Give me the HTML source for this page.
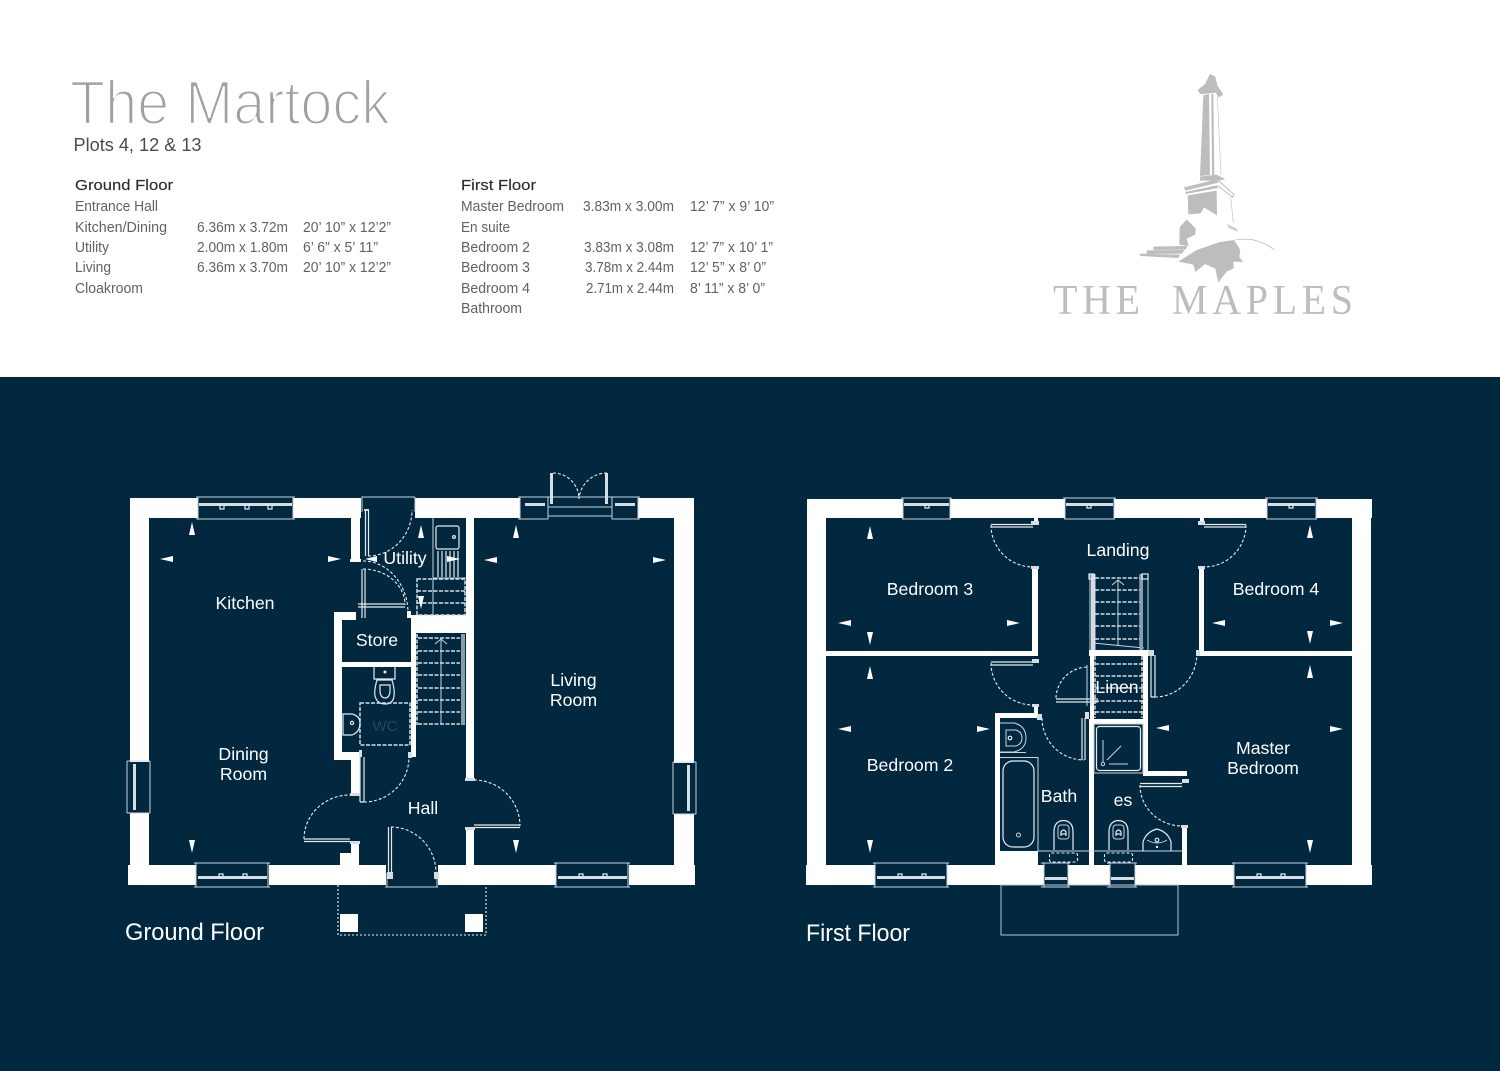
<!DOCTYPE html>
<html lang="en"><head><meta charset="utf-8"><title>The Martock</title>
<style>
html,body{margin:0;padding:0;background:#fff}
svg{display:block}
text{font-family:"Liberation Sans",Arial,sans-serif}
.t{font-size:14.4px;fill:#626262}
.h{font-size:15px;fill:#2c2c2c;stroke:#2c2c2c;stroke-width:.15}
.r{font-size:17.7px;fill:#fff;text-anchor:middle}
.f{font-size:24px;fill:#fff}
.w{fill:#fff}
.n{fill:#01283f}
.l{fill:none;stroke:#c9d5dc;stroke-width:1}
.b{fill:none;stroke:#e4eaee;stroke-width:1.2}
.d{fill:none;stroke:#e8eef1;stroke-width:1.1;stroke-dasharray:3 2}
.dd{fill:none;stroke:#d3dde2;stroke-width:1.5;stroke-dasharray:4 1.500}
.s{fill:#d5dee3}
.lg{fill:#bdbdbd}
</style></head>
<body>
<svg width="1500" height="1071" viewBox="0 0 1500 1071" xmlns="http://www.w3.org/2000/svg">
<rect width="1500" height="1071" fill="#fff"/>
<rect y="377" width="1500" height="694" fill="#01283f"/>

<!-- Title -->
<text x="70" y="124" font-size="62" fill="#a0a0a0" stroke="#fff" stroke-width="2.300" textLength="320" lengthAdjust="spacingAndGlyphs">The Martock</text>
<text x="73.500" y="151" font-size="18.500" fill="#4c4c4c" textLength="128" lengthAdjust="spacingAndGlyphs">Plots 4, 12 &amp; 13</text>

<text class="h" x="75" y="190" textLength="98" lengthAdjust="spacingAndGlyphs">Ground Floor</text>
<text class="t" x="75" y="211" textLength="83" lengthAdjust="spacingAndGlyphs">Entrance Hall</text>
<text class="t" x="75" y="232" textLength="92" lengthAdjust="spacingAndGlyphs">Kitchen/Dining</text>
<text class="t" x="197" y="232" textLength="91" lengthAdjust="spacingAndGlyphs">6.36m x 3.72m</text>
<text class="t" x="303" y="232" textLength="88" lengthAdjust="spacingAndGlyphs">20’ 10” x 12’2”</text>
<text class="t" x="75" y="252" textLength="34" lengthAdjust="spacingAndGlyphs">Utility</text>
<text class="t" x="197" y="252" textLength="91" lengthAdjust="spacingAndGlyphs">2.00m x 1.80m</text>
<text class="t" x="303" y="252" textLength="75" lengthAdjust="spacingAndGlyphs">6’ 6” x 5’ 11”</text>
<text class="t" x="75" y="272" textLength="36" lengthAdjust="spacingAndGlyphs">Living</text>
<text class="t" x="197" y="272" textLength="91" lengthAdjust="spacingAndGlyphs">6.36m x 3.70m</text>
<text class="t" x="303" y="272" textLength="88" lengthAdjust="spacingAndGlyphs">20’ 10” x 12’2”</text>
<text class="t" x="75" y="293" textLength="68" lengthAdjust="spacingAndGlyphs">Cloakroom</text>

<text class="h" x="461" y="190" textLength="75" lengthAdjust="spacingAndGlyphs">First Floor</text>
<text class="t" x="461" y="211" textLength="103" lengthAdjust="spacingAndGlyphs">Master Bedroom</text>
<text class="t" x="583" y="211" textLength="91" lengthAdjust="spacingAndGlyphs">3.83m x 3.00m</text>
<text class="t" x="690" y="211" textLength="84" lengthAdjust="spacingAndGlyphs">12’ 7” x 9’ 10”</text>
<text class="t" x="461" y="232" textLength="49" lengthAdjust="spacingAndGlyphs">En suite</text>
<text class="t" x="461" y="252" textLength="69" lengthAdjust="spacingAndGlyphs">Bedroom 2</text>
<text class="t" x="584" y="252" textLength="90" lengthAdjust="spacingAndGlyphs">3.83m x 3.08m</text>
<text class="t" x="690" y="252" textLength="83" lengthAdjust="spacingAndGlyphs">12’ 7” x 10’ 1”</text>
<text class="t" x="461" y="272" textLength="69" lengthAdjust="spacingAndGlyphs">Bedroom 3</text>
<text class="t" x="585" y="272" textLength="89" lengthAdjust="spacingAndGlyphs">3.78m x 2.44m</text>
<text class="t" x="690" y="272" textLength="76" lengthAdjust="spacingAndGlyphs">12’ 5” x 8’ 0”</text>
<text class="t" x="461" y="293" textLength="69" lengthAdjust="spacingAndGlyphs">Bedroom 4</text>
<text class="t" x="586" y="293" textLength="88" lengthAdjust="spacingAndGlyphs">2.71m x 2.44m</text>
<text class="t" x="690" y="293" textLength="75" lengthAdjust="spacingAndGlyphs">8’ 11” x 8’ 0”</text>
<text class="t" x="461" y="313" textLength="61" lengthAdjust="spacingAndGlyphs">Bathroom</text>

<!-- Logo -->
<g transform="translate(1040 60) scale(.33333)">
<path class="lg" d="M495 72L510 42L526 50L532 76L550 104L536 112L527 98L490 102L480 102L473 90Z"/>
<path class="lg" d="M490 106L507 102L510 345L480 348Z"/>
<path class="lg" d="M514 102L520 102L523 345L516 345Z"/>
<path d="M532 110L543 345" fill="none" stroke="#c4c4c4" stroke-width="2"/>
<path class="lg" d="M480 350L530 344L556 358L535 362L480 362Z"/>
<path class="lg" d="M432 382L530 358L536 368L436 392Z"/>
<path class="lg" d="M436 396L530 376L534 384L438 402Z"/>
<path d="M536 362L582 404L578 412L532 376" fill="none" stroke="#bdbdbd" stroke-width="3"/>
<path class="lg" d="M443 406L530 392L531 466L492 442L482 460L445 463Z"/>
<path d="M572 412L580 488" fill="none" stroke="#c4c4c4" stroke-width="2"/>
<path class="lg" d="M440 478L467 505L466 524L440 536L446 558L418 554L419 502Z"/>
<path class="lg" d="M340 560L442 558L437 569L340 570Z"/>
<path class="lg" d="M320 571L433 570L426 581L320 582Z"/>
<path class="lg" d="M300 581L420 584L415 594L300 588Z"/>
<path class="lg" d="M560 492L590 505L594 516L566 504Z" opacity=".7"/>
<path class="lg" d="M415 605L470 570L540 546L582 540L590 552L601 570L598 590L609 606L580 605L581 625L560 635L535 668L526 626L495 612L466 636L460 614Z"/>
<path d="M585 540Q650 528 703 570" fill="none" stroke="#bdbdbd" stroke-width="2.400"/>
</g>
<text transform="translate(1053 314) scale(1 1.07)" font-size="40" style='font-family:"Liberation Serif",serif' fill="#bdbdbd" textLength="87" lengthAdjust="spacing">THE</text>
<text transform="translate(1172 314) scale(1 1.07)" font-size="40" style='font-family:"Liberation Serif",serif' fill="#bdbdbd" textLength="181" lengthAdjust="spacing">MAPLES</text>

<!-- ============ GROUND FLOOR ============ -->
<g class="w">
<rect x="130" y="498" width="231" height="20"/>
<rect x="415" y="498" width="279" height="20"/>
<rect x="130" y="498" width="19" height="387"/>
<rect x="674" y="498" width="20" height="387"/>
<rect x="128" y="865" width="258" height="20"/>
<rect x="438" y="865" width="257" height="20"/>
<rect x="351" y="518" width="9" height="42"/>
<rect x="334" y="612" width="8" height="148"/>
<rect x="334" y="612" width="22" height="8"/>
<rect x="411" y="615" width="55" height="18"/>
<rect x="411" y="615" width="5" height="142"/>
<rect x="342" y="662" width="69" height="5"/>
<rect x="466" y="518" width="8" height="262"/>
<rect x="466" y="827" width="8" height="38"/>
<rect x="334" y="752" width="17" height="8"/>
<rect x="351" y="752" width="9" height="43"/>
<rect x="351" y="842" width="8" height="24"/>
<rect x="340" y="853" width="12" height="13"/>
<rect x="340" y="914" width="18" height="18"/>
<rect x="465" y="914" width="18" height="18"/>
</g>

<!-- GF windows -->
<g id="gfwin">
<rect class="n" x="198" y="497" width="95" height="22"/>
<path class="l" d="M196 497H295M198 497V504M293 497V504M198 504V519M293 504V519M196 519H295"/>
<rect class="s" x="199" y="503" width="93" height="3"/>
<path class="b" d="M220 504v5h4v-5M245 504v5h4v-5M268 504v5h4v-5"/>

<rect class="n" x="196" y="864" width="73" height="22"/>
<path class="l" d="M194 863H270M194 887H270M196 863V887M268 863V887"/>
<rect class="s" x="198" y="876" width="69" height="3"/>
<path class="b" d="M219 878v-4h4v4M243 878v-4h4v4"/>

<rect class="n" x="556" y="864" width="73" height="22"/>
<path class="l" d="M554 863H630M554 887H630M556 863V887M628 863V887"/>
<rect class="s" x="558" y="876" width="69" height="3"/>
<path class="b" d="M579 878v-4h4v4M603 878v-4h4v4"/>

<rect class="n" x="129" y="762" width="21" height="51"/>
<path class="l" d="M127 761V813M150 761V813M127 761H150M127 813H150"/>
<rect class="s" x="133" y="764" width="3" height="46"/>
<rect class="n" x="673" y="763" width="21" height="51"/>
<path class="l" d="M673 762V814M696 762V814M673 762H696M673 814H696"/>
<rect class="s" x="687" y="765" width="3" height="46"/>

<!-- French doors -->
<rect class="n" x="520" y="497" width="118" height="22"/>
<path class="l" d="M518 497H640M518 519H548M612 519H640M520 497V519M548 497V519M612 497V519M638 497V519M548 507H612M548 516H612"/>
<rect class="s" x="525" y="503" width="20" height="3"/>
<rect class="s" x="615" y="503" width="20" height="3"/>
<rect class="s" x="550" y="473" width="3" height="31"/>
<rect class="s" x="605" y="473" width="3" height="31"/>
<path class="d" d="M553 473A26 26 0 0 1 579 499M607 473A28 28 0 0 0 579 499"/>
</g>

<!-- GF doors -->
<rect class="n" x="361" y="497" width="54" height="22"/>
<path class="l" d="M361.500 497H415M362 497V512M415 497V512"/>
<rect class="s" x="364" y="509" width="5" height="2"/>
<path class="b" d="M365.500 510V556M368.500 510V556"/>
<path class="d" d="M368 556A44 46 0 0 0 412 510"/>
<path class="b" d="M362 569V618M365 569V618"/>
<path class="b" d="M358 604H405M358 607H405"/>
<path class="d" d="M363 561A45 52 0 0 1 408 613M363 569A42 36 0 0 1 405 605"/>
<rect class="w" x="407" y="611" width="4" height="7"/>
<rect class="w" x="350" y="559" width="11" height="3"/>
<path class="b" d="M360 757V802M364 757V802M360 802H364"/>
<path class="d" d="M364 802A45 45 0 0 0 409 757"/>
<rect class="s" x="359" y="750" width="3" height="7"/>
<rect class="s" x="408" y="752" width="4" height="6"/>
<path class="b" d="M304 839H350M304 841.500H350"/>
<path class="d" d="M304 839A46 44 0 0 1 350 795"/>
<rect class="s" x="350" y="793" width="10" height="3"/>
<rect class="s" x="350" y="841" width="10" height="3"/>
<path class="b" d="M474 825H520M474 827.500H520"/>
<path class="d" d="M474 780A46 46 0 0 1 520 826"/>
<rect class="s" x="465" y="778" width="10" height="3"/>
<rect class="s" x="465" y="827" width="10" height="3"/>
<rect class="n" x="386" y="864" width="52" height="23"/>
<path class="l" d="M385 887H438M387 873V887M437 873V887"/>
<path class="b" d="M388.500 827V873M391.500 827V873"/>
<path class="d" d="M391 827A45 46 0 0 1 436 873"/>
<rect class="s" x="387" y="872" width="6" height="7"/>
<rect class="s" x="434" y="872" width="5" height="7"/>
<path d="M338 885V935H486V885" fill="none" stroke="#e8eef1" stroke-width="1.100" stroke-dasharray="2 2"/>

<!-- Utility fittings -->
<path class="l" d="M433 518V615M433 578H466"/>
<rect class="b" x="436" y="526" width="23" height="23" rx="2"/>
<circle class="b" cx="454" cy="537" r="1.400"/>
<path class="b" d="M438 551V577M442 551V577M446 551V577M450 551V577M454 551V577M458 551V577"/>
<path class="dd" d="M417 579H465V615H417ZM417 591H465M417 603H465"/>

<!-- GF stairs -->
<path class="dd" d="M418 638H460M418 651H460M418 663H460M418 675H460M418 688H460M418 700H460M418 712H460M418 724H460"/>
<path class="l" d="M441 640V724M435 644L441 639L447 644"/>
<path class="dd" d="M417 634V725"/>
<rect x="461" y="634" width="4" height="91" fill="#8a9daa"/>

<!-- WC -->
<path class="b" d="M374 667V679H395V667M377 680Q374 690 375 696Q377 704 385 704Q393 704 394 696Q395 690 392 680Z"/>
<path class="b" d="M380 685H390V692Q389 698 385 698Q381 698 380 692Z"/>
<circle cx="385" cy="672" r="1.500" fill="#e8eef1"/>
<path class="dd" d="M360 703H410V745H360Z" stroke-width="1.300"/>
<text x="385" y="731" font-size="15" fill="#2a4558" text-anchor="middle">WC</text>
<path class="b" d="M343 714H352Q360 716 360 723Q360 732 352 735H343Z"/>
<circle class="b" cx="352" cy="723" r="1.600"/>

<!-- ============ FIRST FLOOR ============ -->
<g class="w">
<rect x="807" y="499" width="565" height="19"/>
<rect x="807" y="499" width="19" height="386"/>
<rect x="1352" y="499" width="19" height="386"/>
<rect x="806" y="865" width="566" height="20"/>
<rect x="826" y="651" width="212" height="5"/>
<rect x="1032" y="568" width="6" height="88"/>
<rect x="1199" y="568" width="5" height="88"/>
<rect x="1199" y="651" width="153" height="5"/>
<rect x="1089" y="650" width="59" height="6"/>
<rect x="1090" y="650" width="4" height="70"/>
<rect x="1143" y="650" width="5" height="126"/>
<rect x="1089" y="719" width="59" height="5"/>
<rect x="1089" y="719" width="5" height="147"/>
<rect x="1143" y="771" width="44" height="5"/>
<rect x="1182" y="826" width="5" height="40"/>
<rect x="995" y="713" width="5" height="153"/>
<rect x="995" y="713" width="43" height="5"/>
<rect x="995" y="851" width="43" height="15"/>
</g>

<!-- FF windows -->
<rect class="n" x="903" y="498" width="47" height="21"/>
<path class="l" d="M901 498H952M903 498V519M950 498V519M902 519H951"/>
<rect class="s" x="904" y="503" width="45" height="3"/>
<path class="b" d="M925 504v4h4v-4"/>
<rect class="n" x="1065" y="498" width="49" height="21"/>
<path class="l" d="M1063 498H1116M1065 498V519M1114 498V519M1064 519H1115"/>
<rect class="s" x="1066" y="503" width="47" height="3"/>
<path class="b" d="M1087 504v4h4v-4"/>
<rect class="n" x="1267" y="498" width="49" height="21"/>
<path class="l" d="M1265 498H1318M1267 498V519M1316 498V519M1266 519H1317"/>
<rect class="s" x="1268" y="503" width="47" height="3"/>
<path class="b" d="M1289 504v4h4v-4"/>
<rect class="n" x="875" y="864" width="72" height="22"/>
<path class="l" d="M873 863H949M873 887H949M875 863V887M947 863V887"/>
<rect class="s" x="877" y="876" width="68" height="3"/>
<path class="b" d="M898 878v-4h4v4M922 878v-4h4v4"/>
<rect class="n" x="1234" y="864" width="72" height="22"/>
<path class="l" d="M1232 863H1308M1232 887H1308M1234 863V887M1306 863V887"/>
<rect class="s" x="1236" y="876" width="68" height="3"/>
<path class="b" d="M1257 878v-4h4v4M1281 878v-4h4v4"/>
<rect class="n" x="1044" y="864" width="24" height="23"/>
<path class="l" d="M1041 863H1070M1041 887H1070M1044 863V887M1068 863V887"/>
<rect class="s" x="1045" y="877" width="22" height="3"/>
<rect class="n" x="1110" y="864" width="25" height="23"/>
<path class="l" d="M1107 863H1137M1107 887H1137M1110 863V887M1135 863V887"/>
<rect class="s" x="1111" y="877" width="23" height="3"/>

<!-- FF doors -->
<path class="b" d="M991 524.500H1033M991 527H1033"/>
<path class="d" d="M991 525A42 42 0 0 0 1033 567"/>
<rect class="w" x="1034" y="518" width="4" height="6"/>
<rect class="s" x="1031" y="521" width="8" height="4"/>
<rect class="s" x="1031" y="566" width="8" height="3"/>
<path class="b" d="M1204 524.500H1246M1204 527H1246"/>
<path class="d" d="M1246 525A42 42 0 0 1 1204 567"/>
<rect class="w" x="1200" y="518" width="4" height="6"/>
<rect class="s" x="1198" y="521" width="7" height="4"/>
<rect class="s" x="1198" y="566" width="7" height="3"/>
<path class="b" d="M991 662H1033M991 665H1033"/>
<path class="d" d="M991 663A42 42 0 0 0 1033 705"/>
<rect class="s" x="1032" y="659" width="7" height="4"/>
<rect class="w" x="1034" y="704" width="4" height="10"/>
<rect class="s" x="1032" y="704" width="7" height="3"/>
<rect class="s" x="1037" y="714" width="5" height="6"/>
<path class="b" d="M1082 718V760M1085 718V760"/>
<path class="d" d="M1042 718A42 42 0 0 0 1084 760"/>
<rect class="s" x="1085" y="712" width="4" height="7"/>
<path class="b" d="M1056 699H1098M1056 702H1098"/>
<path class="d" d="M1056 698A32 32 0 0 1 1087 667"/>
<path class="l" d="M1087 665V706M1091 665V706"/>
<path class="b" d="M1151 655V697M1155 655V697M1151 697H1155"/>
<path class="d" d="M1155 697A42 44 0 0 0 1197 653"/>
<rect class="s" x="1148" y="650" width="6" height="6"/>
<rect class="s" x="1196" y="650" width="4" height="6"/>
<path class="b" d="M1140 783.500H1182M1140 786.500H1182"/>
<path class="d" d="M1140 785A42 41 0 0 0 1182 826"/>
<rect class="s" x="1182" y="779" width="7" height="4"/>
<rect class="s" x="1181" y="825" width="7" height="3"/>

<!-- FF stairs -->
<path class="l" d="M1090 574V650M1095 574V650M1140 574V650M1148 574V650M1118 580V645M1112 585L1118 580L1124 585M1093 643L1144 648"/>
<rect x="1091" y="574" width="4" height="76" fill="#d5dee3"/>
<rect x="1140" y="574" width="3" height="76" fill="#8a9daa"/>
<rect class="b" x="1089" y="574" width="5" height="5"/>
<rect class="b" x="1142" y="574" width="6" height="5"/>
<path class="dd" d="M1095 578H1140M1095 590H1140M1095 602H1140M1095 614H1140M1095 626H1140M1095 639H1140"/>
<path class="dd" d="M1095 664H1143M1095 676H1143M1095 688H1143M1095 701H1143M1095 712H1143M1095 656V718M1142 656V718"/>

<!-- Bathroom -->
<path class="l" d="M1000 752.500H1026M1000 757.500H1038V851M1038 851H1182"/>
<path class="l" d="M1000 723H1014Q1026 726 1026 738Q1026 749 1014 752H1000"/>
<path class="l" d="M1006 730V746H1016Q1022 744 1022 738Q1022 732 1016 730Z" />
<circle class="b" cx="1010" cy="738" r="1.800"/>
<rect class="b" x="1003" y="761" width="31" height="86" rx="10"/>
<circle class="l" cx="1018.500" cy="835" r="2"/>
<path class="b" d="M1054 850V832Q1054 821 1063.500 820.500Q1073 821 1073 832V850"/>
<rect class="l" x="1058" y="825" width="11" height="14" rx="3"/>
<path class="b" d="M1061 836V832Q1063.500 828 1066 832V836M1061 834H1066"/>
<rect class="d" x="1049.500" y="853" width="28" height="9" rx="2"/>
<path class="b" d="M1109 850V832Q1109 821 1118.500 820.500Q1128 821 1128 832V850"/>
<rect class="l" x="1113" y="825" width="11" height="14" rx="3"/>
<path class="b" d="M1116 836V832Q1118.500 828 1121 832V836M1116 834H1121"/>
<rect class="d" x="1104.500" y="853" width="28" height="9" rx="2"/>
<path class="b" d="M1143 851V842Q1146 832 1157 829Q1168 832 1171 842V851"/>
<path class="l" d="M1147 840Q1157 846 1167 840"/>
<circle class="b" cx="1157" cy="840" r="1.800"/>
<circle cx="1157" cy="847" r="1.200" fill="#e8eef1"/>
<rect class="l" x="1094" y="724" width="49" height="49"/>
<rect class="b" x="1096.500" y="726.500" width="44" height="44" rx="3"/>
<path class="l" d="M1103 740V762M1107 760L1121 746M1109 764H1128"/>
<circle class="l" cx="1103" cy="764" r="1.700"/>
<rect x="1001" y="885" width="177" height="50" fill="none" stroke="#b7c6cf" stroke-width="1"/>

<!-- Dimension arrows -->
<g class="w">
<path d="M192 522l-3 13h6zM192 853l-3-13h6zM160 559l13-3v6zM341 559l-13-3v6zM365 559l12-3v6zM421 525l-3 13h6zM421 609l-3-13h6zM460 559l-13-3v6zM516 525l-3 13h6zM516 853l-3-13h6zM484 560l13-3v6zM666 560l-13-3v6z"/>
<path d="M870 526l-3 13h6zM870 645l-3-13h6zM838 623l13-3v6zM1020 623l-13-3v6zM1310 525l-3 13h6zM1310 644l-3-13h6zM1212 623l13-3v6zM1343 623l-13-3v6zM870 666l-3 13h6zM870 853l-3-13h6zM838 729l13-3v6zM990 729l-13-3v6zM1310 665l-3 13h6zM1310 853l-3-13h6zM1156 728l13-3v6zM1343 729l-13-3v6z"/>
</g>

<!-- Room labels -->
<text class="r" x="245" y="609">Kitchen</text>
<text class="r" x="405" y="564">Utility</text>
<text class="r" x="377" y="646">Store</text>
<text class="r" x="243.500" y="760">Dining</text>
<text class="r" x="243.500" y="780">Room</text>
<text class="r" x="573.500" y="686">Living</text>
<text class="r" x="573.500" y="706">Room</text>
<text class="r" x="423" y="814">Hall</text>
<text class="f" x="125" y="940" textLength="139" lengthAdjust="spacingAndGlyphs">Ground Floor</text>
<text class="r" x="1118" y="556">Landing</text>
<text class="r" x="930" y="595">Bedroom 3</text>
<text class="r" x="1276" y="595">Bedroom 4</text>
<text class="r" x="1117" y="693">Linen</text>
<text class="r" x="910" y="771">Bedroom 2</text>
<text class="r" x="1263" y="754">Master</text>
<text class="r" x="1263" y="774">Bedroom</text>
<text class="r" x="1059" y="802">Bath</text>
<text class="r" x="1123" y="806">es</text>
<text class="f" x="806" y="941" textLength="104" lengthAdjust="spacingAndGlyphs">First Floor</text>
</svg>
</body></html>
